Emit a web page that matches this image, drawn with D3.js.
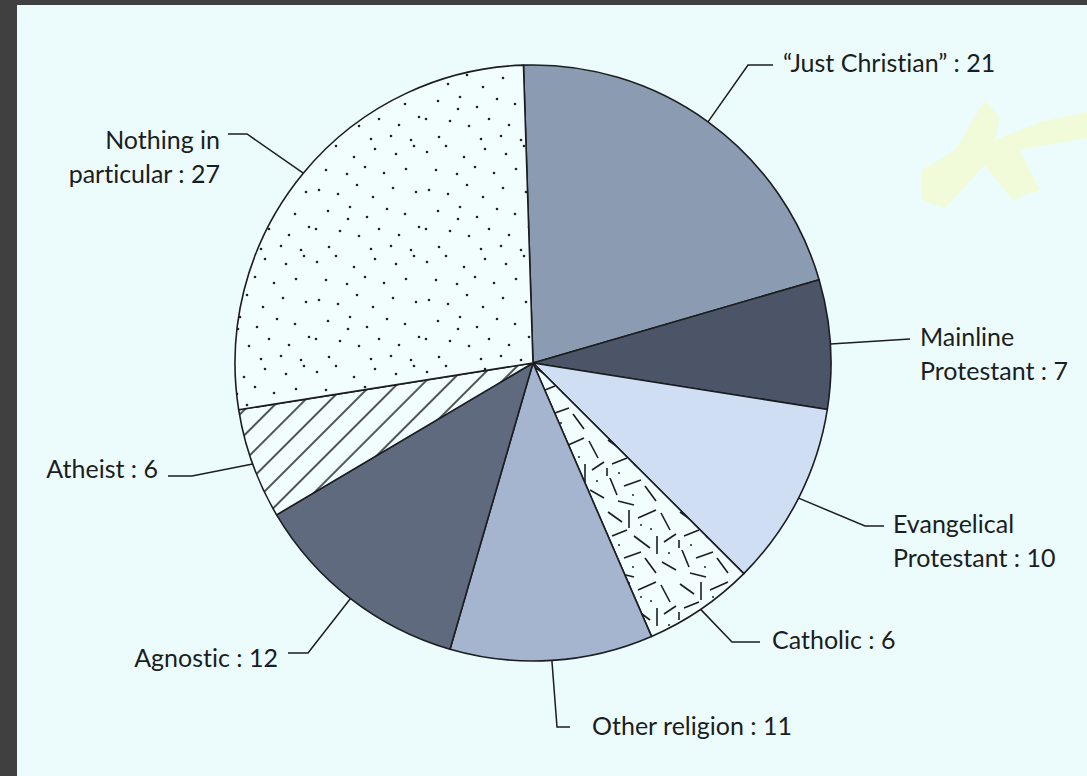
<!DOCTYPE html>
<html>
<head>
<meta charset="utf-8">
<script src="https://cdn.jsdelivr.net/npm/d3@7/dist/d3.min.js"></script>
<style>
  html, body { margin: 0; padding: 0; background: #404040; }
  svg { display: block; }
  text { font-family: Lato, "Open Sans", sans-serif; font-size: 25px; fill: #1b1d20;
         font-variant-ligatures: none; }
</style>
</head>
<body>
<svg id="chart" width="1087" height="776"></svg>
<script>
// --- data ---------------------------------------------------------------
var labelLines = [
    ['\u201cJust Christian\u201d'],
    ['Mainline', 'Protestant'],
    ['Evangelical', 'Protestant'],
    ['Catholic'],
    ['Other religion'],
    ['Agnostic'],
    ['Atheist'],
    ['Nothing in', 'particular']
];
var categories = labelLines.map(function (l) { return l.join(' '); });
var values = [21, 7, 10, 6, 11, 12, 6, 27];

// --- look ---------------------------------------------------------------
var fills = ['#8b9bb2', '#4b5567', '#d0def4', 'url(#dashes)', '#a5b4cf', '#5f6a7f', 'url(#hatch)', 'url(#dots)'];

// leader elbows / label anchors, by slice index
var layout = [
    { elbow: [748, 65],  end: [773, 65],  x: 783, y: 72,  anchor: 'start' },
    { elbow: null,       end: [910, 339], x: 920, y: 346, anchor: 'start' },
    { elbow: [865, 526], end: [884, 526], x: 893, y: 533, anchor: 'start' },
    { elbow: [732, 642], end: [760, 642], x: 772, y: 649, anchor: 'start' },
    { elbow: [557, 727], end: [570, 727], x: 592, y: 735, anchor: 'start' },
    { elbow: [308, 653], end: [288, 653], x: 278, y: 667, anchor: 'end' },
    { elbow: [192, 476], end: [168, 476], x: 158, y: 478, anchor: 'end' },
    { elbow: [247, 134], end: [228, 134], x: 220, y: 149, anchor: 'end' }
];

var W = 1087, H = 776;
var cx = 533, cy = 363, r = 298;
var lineGap = 34;

var svg = d3.select('#chart');

// page
svg.append('rect').attr('x', 17).attr('y', 5).attr('width', W - 17).attr('height', H - 5)
    .attr('fill', '#ecfcfd');
// highlighter smudge on the page
svg.append('path')
    .attr('d', 'M922,170 L955,150 L985,100 L1000,118 L995,140 L1040,122 L1087,112 L1087,138 L1020,150 L1040,190 L1012,200 L985,165 L945,208 L922,200 Z')
    .attr('fill', '#f3fbcc').attr('opacity', 0.75);

// patterns
var defs = svg.append('defs');

var dots = defs.append('pattern').attr('id', 'dots')
    .attr('patternUnits', 'userSpaceOnUse').attr('width', 110).attr('height', 110);
dots.append('rect').attr('width', 110).attr('height', 110).attr('fill', '#f2fdfe');
[[4, 9], [23, 3], [41, 14], [62, 6], [83, 11], [101, 3], [13, 27], [34, 31], [52, 24], [71, 30],
 [93, 26], [6, 47], [25, 51], [44, 42], [60, 54], [80, 45], [103, 49], [15, 68], [37, 64], [54, 74],
 [74, 66], [92, 71], [3, 86], [27, 88], [46, 93], [66, 86], [86, 92], [106, 84], [16, 104], [58, 106],
 [78, 103], [98, 107], [35, 76]]
    .forEach(function (p) {
        dots.append('circle').attr('cx', p[0]).attr('cy', p[1]).attr('r', 1.3).attr('fill', '#222');
    });

var hatch = defs.append('pattern').attr('id', 'hatch')
    .attr('patternUnits', 'userSpaceOnUse').attr('width', 18).attr('height', 18)
    .attr('patternTransform', 'rotate(45)');
hatch.append('rect').attr('width', 18).attr('height', 18).attr('fill', '#f2fdfe');
hatch.append('line').attr('x1', 9).attr('y1', 0).attr('x2', 9).attr('y2', 18)
    .attr('stroke', '#1b1d20').attr('stroke-width', 1.5);

var dashes = defs.append('pattern').attr('id', 'dashes')
    .attr('patternUnits', 'userSpaceOnUse').attr('width', 72).attr('height', 72);
dashes.append('rect').attr('width', 72).attr('height', 72).attr('fill', '#f2fdfe');
[[3, 5, 17, 15], [24, 3, 24, 21], [33, 11, 51, 3], [56, 6, 65, 23], [7, 29, 22, 23], [29, 29, 45, 41],
 [52, 29, 52, 47], [59, 35, 71, 27], [5, 43, 12, 60], [19, 51, 36, 45], [40, 51, 51, 66], [57, 55, 71, 63],
 [13, 66, 29, 70], [2, 33, 2, 41]]
    .forEach(function (s) {
        dashes.append('line').attr('x1', s[0]).attr('y1', s[1]).attr('x2', s[2]).attr('y2', s[3])
            .attr('stroke', '#1b1d20').attr('stroke-width', 1.6);
    });
[[14, 38], [46, 22], [28, 60], [64, 46], [36, 18]].forEach(function (p) {
    dashes.append('circle').attr('cx', p[0]).attr('cy', p[1]).attr('r', 1).attr('fill', '#222');
});

// pie
var pie = d3.pie().sort(null).value(function (d) { return d; })
    .startAngle(-0.032).endAngle(2 * Math.PI - 0.032);
var arcs = pie(values);
var arc = d3.arc().innerRadius(0).outerRadius(r);

var g = svg.append('g').attr('transform', 'translate(' + cx + ',' + cy + ')');
g.selectAll('path.slice').data(arcs).enter().append('path')
    .attr('class', 'slice')
    .attr('d', arc)
    .attr('fill', function (d, i) { return fills[i]; })
    .attr('stroke', '#1b1d20').attr('stroke-width', 1.6).attr('stroke-linejoin', 'round');

// leaders and labels
arcs.forEach(function (d, i) {
    var a = (d.startAngle + d.endAngle) / 2;
    var p0 = [cx + r * Math.sin(a), cy - r * Math.cos(a)];
    var L = layout[i];
    var pts = [p0];
    if (L.elbow) pts.push(L.elbow);
    pts.push(L.end);
    svg.append('path')
        .attr('d', d3.line()(pts))
        .attr('fill', 'none').attr('stroke', '#1b1d20').attr('stroke-width', 1.5);

    var lines = labelLines[i].slice();
    lines[lines.length - 1] += ' : ' + values[i];
    var t = svg.append('text').attr('x', L.x).attr('y', L.y).attr('text-anchor', L.anchor);
    lines.forEach(function (s, k) {
        t.append('tspan').attr('x', L.x).attr('dy', k === 0 ? 0 : lineGap).text(s);
    });
});
</script>
</body>
</html>
